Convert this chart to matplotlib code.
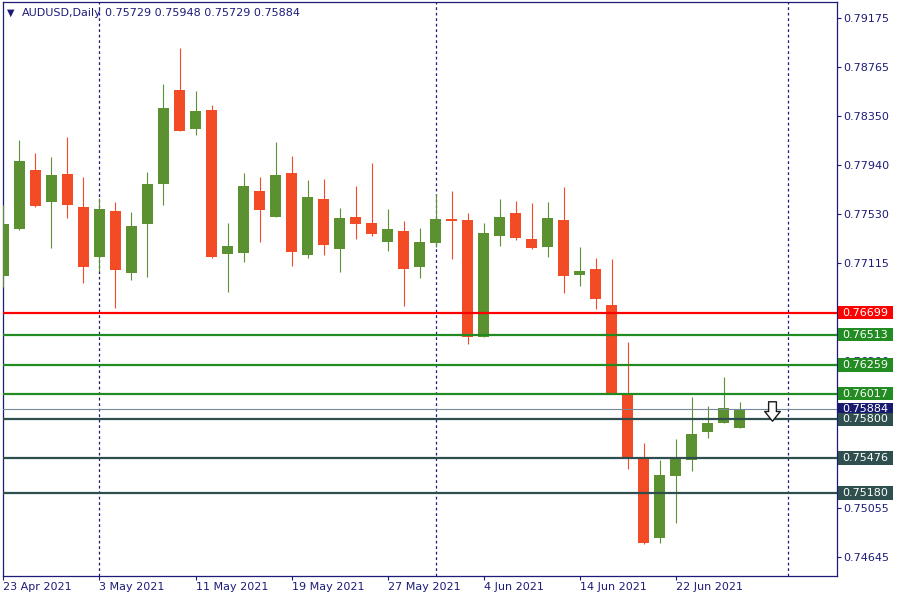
import numpy as np
import matplotlib
matplotlib.use('Agg')
import matplotlib.pyplot as plt
from matplotlib.patches import Rectangle
from matplotlib.path import Path
from matplotlib.transforms import blended_transform_factory

# AUDUSD daily bars, 23 Apr 2021 .. 28 Jun 2021 (one per business day)
start_date = '2021-04-23'
opens = [0.77009, 0.77402, 0.77898, 0.77632, 0.77864, 0.77587, 0.77167, 0.77553, 0.77035, 0.77447,
         0.77784, 0.78572, 0.78247, 0.78404, 0.77188, 0.77204, 0.77722, 0.77505, 0.77873, 0.77180,
         0.77654, 0.77236, 0.77503, 0.77453, 0.77295, 0.77385, 0.77085, 0.77287, 0.77486, 0.77478,
         0.76496, 0.77346, 0.77537, 0.77318, 0.77253, 0.77478, 0.77018, 0.77066, 0.76763, 0.76019,
         0.75475, 0.74805, 0.75326, 0.75461, 0.75695, 0.75771, 0.75729]
highs = [0.77604, 0.78151, 0.78041, 0.78008, 0.78176, 0.77839, 0.77663, 0.77629, 0.77545, 0.77882,
         0.78623, 0.78926, 0.78564, 0.78446, 0.77453, 0.77873, 0.77839, 0.78134, 0.78017, 0.77814,
         0.77823, 0.77579, 0.77766, 0.77957, 0.77570, 0.77469, 0.77411, 0.77696, 0.77722, 0.77537,
         0.77453, 0.77654, 0.77637, 0.77621, 0.77629, 0.77755, 0.77251, 0.77159, 0.77150, 0.76452,
         0.75601, 0.75458, 0.75635, 0.75988, 0.75912, 0.76156, 0.75948]
lows = [0.76917, 0.77394, 0.77590, 0.77245, 0.77497, 0.76951, 0.77049, 0.76740, 0.76976, 0.77001,
        0.77604, 0.78225, 0.78196, 0.77160, 0.76875, 0.77125, 0.77295, 0.77500, 0.77093, 0.77155,
        0.77180, 0.77043, 0.77321, 0.77346, 0.77220, 0.76757, 0.76993, 0.77253, 0.77150, 0.76437,
        0.76490, 0.77263, 0.77312, 0.77237, 0.77167, 0.76866, 0.76925, 0.76732, 0.76020, 0.75385,
        0.74755, 0.74763, 0.74931, 0.75368, 0.75645, 0.75771, 0.75729]
closes = [0.77444, 0.77974, 0.77598, 0.77856, 0.77606, 0.77085, 0.77570, 0.77060, 0.77427, 0.77781,
          0.78421, 0.78230, 0.78396, 0.77167, 0.77263, 0.77764, 0.77564, 0.77856, 0.77212, 0.77671,
          0.77270, 0.77495, 0.77447, 0.77363, 0.77402, 0.77068, 0.77293, 0.77486, 0.77472, 0.76496,
          0.77369, 0.77503, 0.77329, 0.77245, 0.77495, 0.77009, 0.77049, 0.76816, 0.76024, 0.75481,
          0.74763, 0.75332, 0.75483, 0.75677, 0.75768, 0.75895, 0.75884]

tick_dates = ['2021-04-23', '2021-05-03', '2021-05-11', '2021-05-19', '2021-05-27',
              '2021-06-04', '2021-06-14', '2021-06-22']
tick_labels = ['23 Apr 2021', '3 May 2021', '11 May 2021', '19 May 2021', '27 May 2021',
               '4 Jun 2021', '14 Jun 2021', '22 Jun 2021']
separator_dates = ['2021-05-03', '2021-06-01', '2021-07-01']

price_ticks = [0.79175, 0.78765, 0.78350, 0.77940, 0.77530, 0.77115, 0.76705,
               0.76290, 0.75880, 0.75465, 0.75055, 0.74645]
# these sit under the level tags, so the terminal doesn't show them
hidden_ticks = [0.76705, 0.75880, 0.75465]

levels = [0.76699, 0.76513, 0.76259, 0.76017, 0.75800, 0.75476, 0.75180]
level_colors = ['#ff0000', '#228b22', '#228b22', '#228b22', '#2f4f4f', '#2f4f4f', '#2f4f4f']
bid = 0.75884
sell_arrow_date = '2021-06-30'
sell_arrow_price = 0.75867

navy = '#1c1c78'
up_col = '#5b9130'
down_col = '#f34b26'

fig = plt.figure(figsize=(9, 6), dpi=100)
ax = fig.add_axes([3 / 900, 24.3 / 600, 833.7 / 900, 573.7 / 600])

x = np.arange(len(opens))
o = np.array(opens)
c = np.array(closes)
cols = [up_col if cc >= oo else down_col for oo, cc in zip(o, c)]

ax.vlines(x, lows, highs, colors=cols, linewidth=0.8, zorder=3)
ax.bar(x, np.maximum(np.abs(c - o), 0.00004), bottom=np.minimum(o, c), width=0.69,
       color=cols, zorder=4)

# period separators
for d in separator_dates:
    ax.axvline(np.busday_count(start_date, d), color=navy, linestyle=(0, (2.2, 2.2)),
               linewidth=0.9, zorder=1)

# horizontal levels
for lv, col in zip(levels, level_colors):
    ax.axhline(lv, color=col, linewidth=1.6, zorder=5)
ax.axhline(bid, color='#778899', linewidth=0.8, zorder=5)

ax.set_xlim(-0.03, 52.07)
ax.set_ylim(0.74485, 0.79312)

ax.yaxis.tick_right()
ax.set_yticks(price_ticks)
ax.set_yticklabels(['' if p in hidden_ticks else f'{p:.5f}' for p in price_ticks])
ax.set_xticks([np.busday_count(start_date, d) for d in tick_dates])
ax.set_xticklabels(tick_labels, ha='left')
ax.tick_params(axis='both', colors=navy, labelcolor=navy, labelsize=8, length=3,
               width=0.8, direction='out')
ax.tick_params(axis='y', pad=2)
ax.tick_params(axis='x', pad=1.5)
for sp in ax.spines.values():
    sp.set_color(navy)
    sp.set_linewidth(0.9)

# price tags on right axis
tr = blended_transform_factory(ax.transAxes, ax.transData)
box_x = 1.5 / 833.7 + 1.0
box_w = 55 / 833.7
box_h = 13.5 / 11885
label_items = [(bid, '#191970')] + list(zip(levels, level_colors))
for i, (lv, col) in enumerate(label_items):
    z = 20 + i
    ax.add_patch(Rectangle((box_x, lv - box_h / 2), box_w, box_h, transform=tr,
                           facecolor=col, edgecolor='none', clip_on=False, zorder=z))
    ax.text(box_x + 4.5 / 833.7, lv, f'{lv:.5f}', transform=tr, color='white',
            fontsize=8, va='center', ha='left', clip_on=False, zorder=z + 0.5)

# hollow sell arrow
arrow = Path([(-4, 10), (4, 10), (4, 0), (8, 0), (0, -10), (-8, 0), (-4, 0), (-4, 10)],
             [Path.MOVETO] + [Path.LINETO] * 6 + [Path.CLOSEPOLY])
ax.plot([np.busday_count(start_date, sell_arrow_date)], [sell_arrow_price], marker=arrow,
        markersize=14, markerfacecolor='white', markeredgecolor='#1a1a1a',
        markeredgewidth=1.0, linestyle='none', zorder=6)

# header
fig.text(11 / 900, 1 - 12.5 / 600, '\u25bc', fontsize=7, color=navy, ha='center', va='center')
fig.text(22 / 900, 1 - 13 / 600, 'AUDUSD,Daily', fontsize=8, color=navy, va='center')
fig.text(105 / 900, 1 - 13 / 600, '0.75729 0.75948 0.75729 0.75884', fontsize=8,
         color=navy, va='center')

fig.savefig('out.png', dpi=100)
